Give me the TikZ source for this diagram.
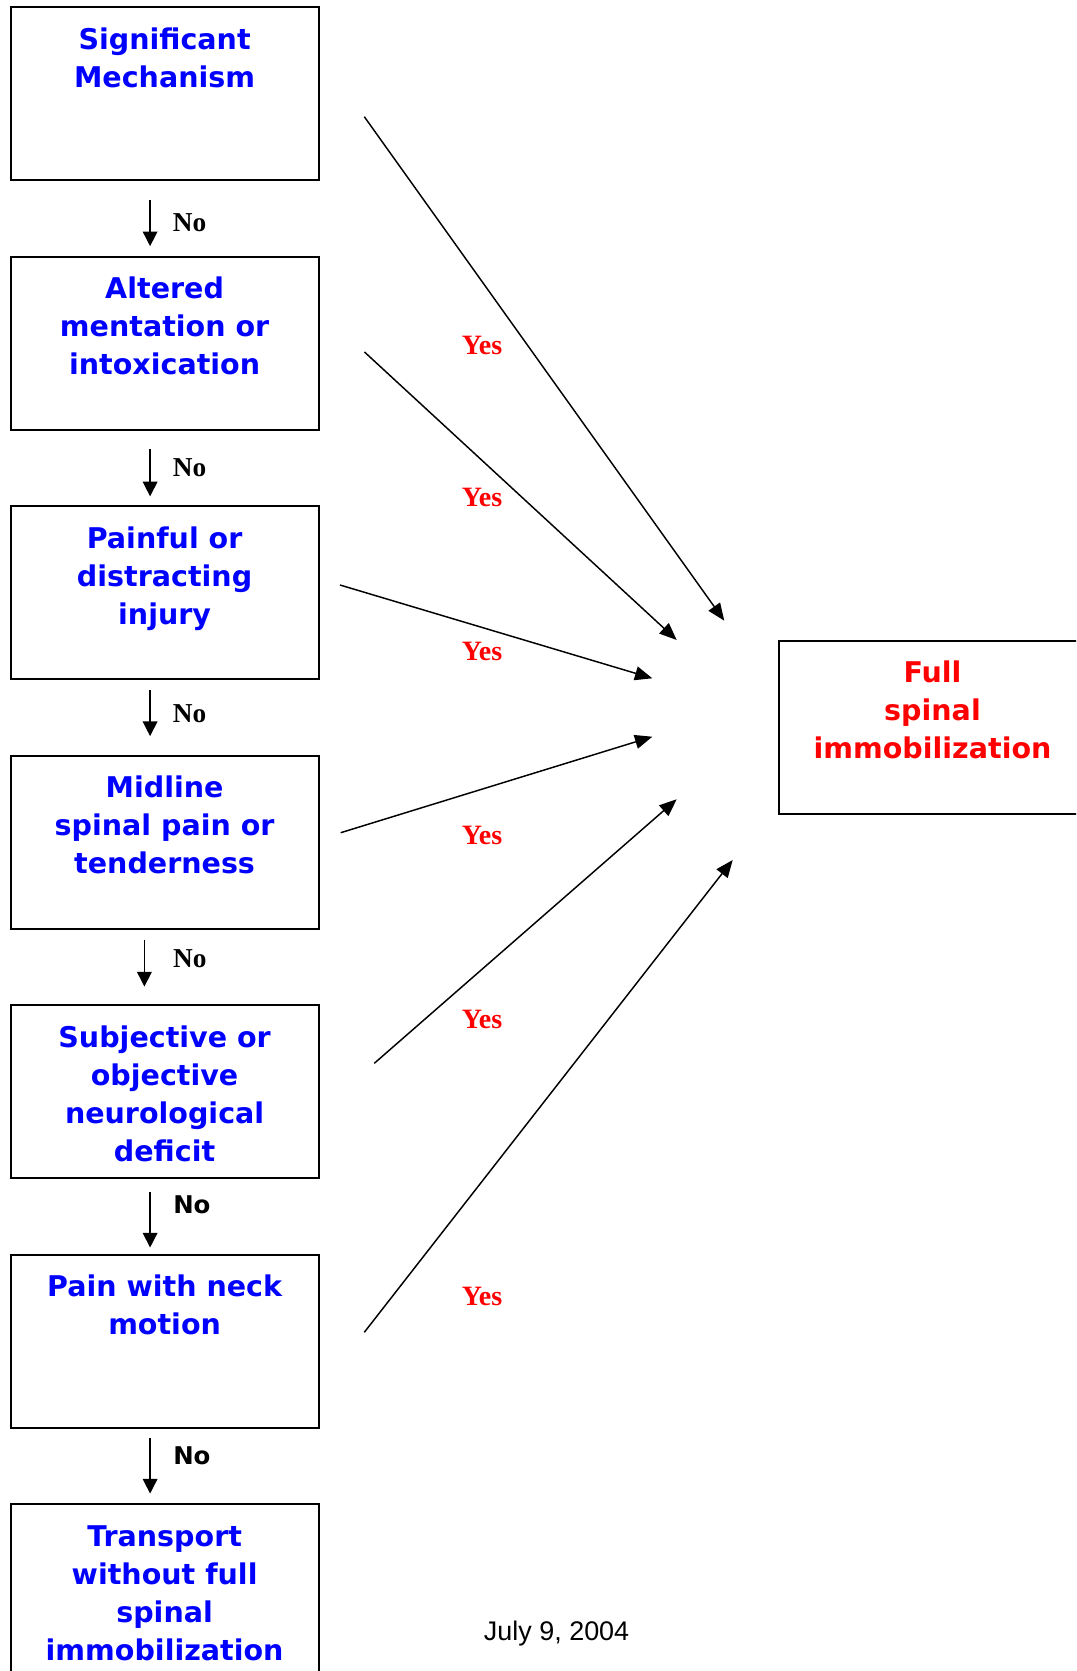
\documentclass[tikz,border=0pt]{standalone}
\usepackage{fontspec}
\usetikzlibrary{arrows.meta,calc}
\newfontfamily\boxfont{DejaVu Sans}
\newfontfamily\serifbold{Liberation Serif}
\newfontfamily\datefont{Liberation Sans}
\definecolor{BoxBlue}{RGB}{0,0,255}
\definecolor{YesRed}{RGB}{255,0,0}
\newcommand{\stepbox}[1]{\parbox[c][129.45pt][t]{231pt}{\centering\rule{0pt}{31.4pt}#1}}

\begin{document}
\begin{tikzpicture}[x=0.75pt,y=-0.75pt,
  box/.style={draw,line width=1.5pt,inner sep=0pt,anchor=north west,text=BoxBlue,
    font=\boxfont\bfseries\fontsize{21.4}{28.5}\selectfont},
  down/.style={-{Triangle[length=11pt,width=11pt]},line width=1.1pt},
  yes/.style={-{Triangle[length=13pt,width=10.5pt]},line width=1.1pt},
  no/.style={font=\serifbold\bfseries\fontsize{20.5}{22}\selectfont},
  nosans/.style={font=\boxfont\bfseries\fontsize{18.3}{20}\selectfont},
  yeslbl/.style={text=YesRed,font=\serifbold\bfseries\fontsize{21}{22}\selectfont}]
\useasboundingbox (0,0) rectangle (1076,1671);
\clip (0,0) rectangle (1076,1671);

% decision boxes
\node[box] (mech)  at (9.6,6.4)    {\stepbox{Significant\\Mechanism}};
\node[box] (ment)  at (9.6,255.9)  {\stepbox{Altered\\mentation or\\intoxication}};
\node[box] (pain)  at (9.6,505.4)  {\stepbox{Painful or\\distracting\\injury}};
\node[box] (midl)  at (9.6,754.9)  {\stepbox{Midline\\spinal pain or\\tenderness}};
\node[box] (neur)  at (9.6,1004.4) {\stepbox{Subjective or\\objective\\neurological\\deficit}};
\node[box] (neck)  at (9.6,1253.9) {\stepbox{Pain with neck\\motion}};
\node[box] (trans) at (9.6,1503.4) {\stepbox{Transport\\without full\\spinal\\immobilization}};
\node[box,text=YesRed] (full) at (777.5,640) {\stepbox{Full\\spinal\\immobilization}};

% No branches
\draw[down,shorten <=14.3pt,shorten >=7.3pt] ($(mech.south)+(-14.5,0)$) -- ($(ment.north)+(-14.5,0)$)
  node[no,pos=0.554,right=13.2pt] (no1) {No};
\draw[down,shorten <=14.2pt,shorten >=6.8pt] ($(ment.south)+(-14.5,0)$) -- ($(pain.north)+(-14.5,0)$)
  node[no,pos=0.495,right=13.2pt] (no2) {No};
\draw[down,shorten <=7.7pt,shorten >=14.1pt] ($(pain.south)+(-14.5,0)$) -- ($(midl.north)+(-14.5,0)$)
  node[no,pos=0.451,right=13.2pt] (no3) {No};
\draw[down,shorten <=7.5pt,shorten >=13.4pt] ($(midl.south)+(-20.2,0)$) -- ($(neur.north)+(-20.2,0)$)
  node[no,pos=0.393,right=17.7pt] (no4) {No};
\draw[down,shorten <=9.8pt,shorten >=4.8pt] ($(neur.south)+(-14.5,0)$) -- ($(neck.north)+(-14.5,0)$)
  node[nosans,pos=0.349,right=13.5pt] (no5) {No};
\draw[down,shorten <=7.1pt,shorten >=7.4pt] ($(neck.south)+(-14.5,0)$) -- ($(trans.north)+(-14.5,0)$)
  node[nosans,pos=0.359,right=13.5pt] (no6) {No};

% Yes branches
\coordinate (s1) at (364.3,116.7);  \coordinate (t1) at (724.3,620.7);
\coordinate (s2) at (364.5,352);    \coordinate (t2) at (676.7,640);
\coordinate (s3) at (340,585);      \coordinate (t3) at (652.3,678.3);
\coordinate (s4) at (340.7,832.7);  \coordinate (t4) at (652.3,736.7);
\coordinate (s5) at (374.3,1063.3); \coordinate (t5) at (676.7,799.3);
\coordinate (s6) at (364.3,1332.3); \coordinate (t6) at (732.7,860);
\foreach \i in {1,...,6}
  \draw[yes] (s\i) -- (t\i);

\node[yeslbl] (yes1) at (482,345)    {Yes};
\node[yeslbl] (yes2) at (482,497.5)  {Yes};
\node[yeslbl] (yes3) at (482,651)    {Yes};
\node[yeslbl] (yes4) at (482,835)    {Yes};
\node[yeslbl] (yes5) at (482,1019.5) {Yes};
\node[yeslbl] (yes6) at (482,1296.5) {Yes};

\node[font=\datefont\fontsize{20.2}{24}\selectfont] (date) at (556.6,1634) {July 9, 2004};
\end{tikzpicture}
\end{document}
